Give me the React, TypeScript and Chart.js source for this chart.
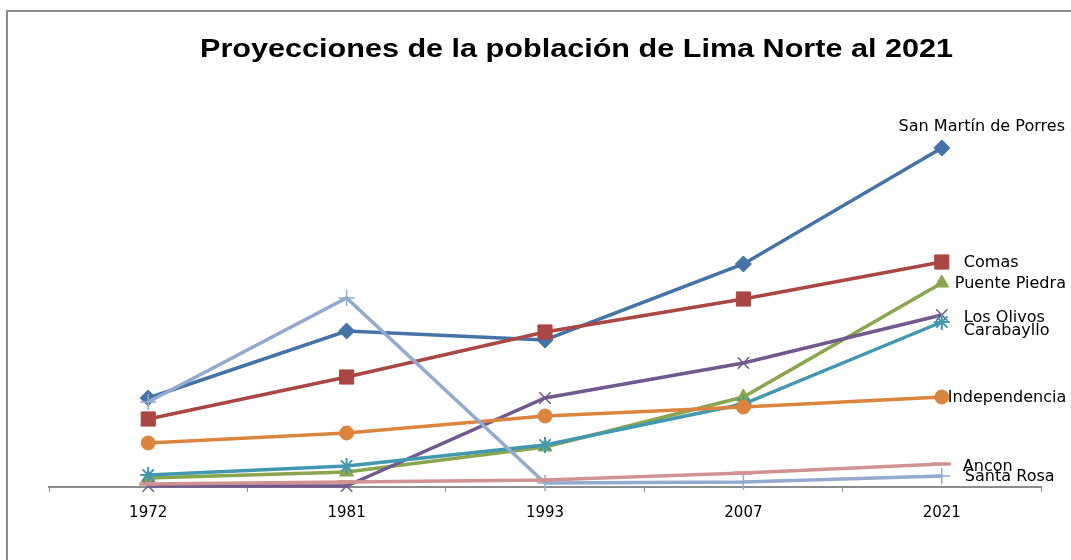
import React, { useEffect, useRef } from 'react';
import { Chart, registerables } from 'chart.js';

Chart.register(...registerables);

const years = ['1972', '1981', '1993', '2007', '2021'];
const sanMartinDePorres = [89, 156, 147, 223, 339];
const comas = [68, 110, 155, 188, 225];
const puentePiedra = [9, 15, 40, 90, 204];
const losOlivos = [1, 1, 89, 124, 172];
const carabayllo = [12, 21, 42, 83, 165];
const independencia = [44, 54, 71, 80, 90];
const santaRosa = [85, 189, 4, 5, 11];
const ancon = [3, 5, 7, 14, 23];
const seriesNames = [
  'San Martín de Porres',
  'Comas',
  'Puente Piedra',
  'Los Olivos',
  'Carabayllo',
  'Independencia',
  'Santa Rosa',
  'Ancon',
];
const titleText = 'Proyecciones de la población de Lima Norte al 2021';

const seriesData = [sanMartinDePorres, comas, puentePiedra, losOlivos, carabayllo, independencia, santaRosa, ancon];
const colors = ['#4572A7', '#AA4643', '#89A54E', '#71588F', '#4198AF', '#DB843D', '#93A9CF', '#D19392'];
const markers = ['rectRot', 'rect', 'triangle', 'crossRot', 'star', 'circle', 'cross', 'line'];
const markerRadius = [8, 10, 8, 8, 8, 7, 8, 9];
const markerBorder = [1, 1, 1, 1.5, 2, 1, 1.5, 3.5];
// label offset from last point: dx, dy, align
const labelOffsets: [number, number, CanvasTextAlign][] = [
  [40, -21, 'center'],
  [22, 1, 'left'],
  [13, 1, 'left'],
  [22, 3, 'left'],
  [22, 9, 'left'],
  [6, 1, 'left'],
  [23, 1, 'left'],
  [21, 3, 'left'],
];

const framePlugin = {
  id: 'frame',
  beforeDraw(chart: any) {
    const ctx = chart.ctx;
    ctx.save();
    ctx.fillStyle = '#ffffff';
    ctx.fillRect(0, 0, chart.width, chart.height);
    ctx.strokeStyle = '#8c8c8c';
    ctx.lineWidth = 2;
    ctx.strokeRect(7, 11, chart.width + 20, chart.height + 20);
    ctx.restore();
  },
};

const labelPlugin = {
  id: 'endLabels',
  afterDraw(chart: any) {
    const ctx = chart.ctx;
    ctx.save();
    // title
    ctx.font = "bold 25px 'Liberation Sans'";
    const w = ctx.measureText(titleText).width;
    const target = 753;
    ctx.translate(576.5, 50);
    ctx.scale(target / w, 1);
    ctx.fillStyle = '#000';
    ctx.textAlign = 'center';
    ctx.textBaseline = 'middle';
    ctx.fillText(titleText, 0, 0);
    ctx.setTransform(1, 0, 0, 1, 0, 0);
    // end labels
    ctx.font = "15px 'DejaVu Sans'";
    ctx.textBaseline = 'middle';
    chart.data.datasets.forEach((ds: any, i: number) => {
      const meta = chart.getDatasetMeta(i);
      const pt = meta.data[meta.data.length - 1];
      if (!pt) return;
      const [dx, dy, align] = labelOffsets[i];
      ctx.textAlign = align;
      ctx.setTransform(1.07, 0, 0, 1, pt.x + dx, pt.y + dy);
      ctx.fillText(seriesNames[i], 0, 0);
    });
    ctx.setTransform(1, 0, 0, 1, 0, 0);
    ctx.restore();
  },
};

export default function App() {
  const ref = useRef<HTMLCanvasElement>(null);
  useEffect(() => {
    if (!ref.current) return;
    const chart = new Chart(ref.current, {
      type: 'line',
      data: {
        labels: years,
        datasets: seriesData.map((d, i) => ({
          label: seriesNames[i],
          data: d,
          borderColor: colors[i],
          backgroundColor: colors[i],
          borderWidth: 3.5,
          pointStyle: markers[i] as any,
          pointRadius: markerRadius[i],
          pointBorderWidth: markerBorder[i],
          pointBackgroundColor: colors[i],
          pointBorderColor: colors[i],
          tension: 0,
          clip: false as any,
          order: 20 - i,
        })),
      },
      options: {
        responsive: false,
        animation: false,
        devicePixelRatio: 1,
        layout: { padding: { left: 49, right: 30, top: 87, bottom: 33 } },
        plugins: {
          legend: { display: false },
          tooltip: { enabled: false },
          title: { display: false },
        },
        scales: {
          x: {
            offset: true,
            grid: {
              display: true,
              drawOnChartArea: false,
              drawTicks: true,
              tickLength: 5,
              color: '#8c8c8c',
              offset: true,
            },
            border: { display: true, color: '#8c8c8c', width: 2 },
            ticks: { color: '#000', font: { family: 'DejaVu Sans', size: 15 }, padding: 12 },
            afterFit: (s: any) => {
              s.height = 40;
            },
          },
          y: { display: false, min: 0, max: 400 },
        },
      },
      plugins: [framePlugin, labelPlugin],
    });
    return () => chart.destroy();
  }, []);
  return (
    <div style={{ position: 'absolute', left: 0, top: 0, width: 1071, height: 560 }}>
      <canvas ref={ref} width={1071} height={560} />
    </div>
  );
}
